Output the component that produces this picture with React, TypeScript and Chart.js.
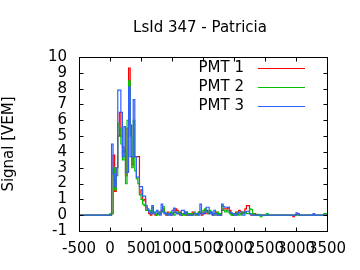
import { useEffect, useRef } from 'react';
import { Chart, registerables } from 'chart.js';

Chart.register(...registerables);

const TITLE = 'LsId 347 - Patricia';
const Y_LABEL = 'Signal [VEM]';
const SERIES_NAMES = ['PMT 1', 'PMT 2', 'PMT 3'];
const SERIES_COLORS = ['#ff0000', '#00c000', '#2f5fff'];

const X_MIN = -500;
const X_MAX = 3500;
const X_STEP = 500;
const Y_MIN = -1;
const Y_MAX = 10;
const Y_STEP = 1;

const BIN_START_NS = 0;
const BIN_WIDTH_NS = 25;

const PMT1 = [
  0.0, 0.1, 3.8, 1.5, 3.0, 5.0, 6.5, 5.0, 4.3, 4.0,
  2.5, 5.5, 9.3, 5.7, 3.2, 3.7, 3.7, 3.7, 3.7, 1.3,
  1.6, 0.9, 1.0, 0.5, 0.3, 0.1, 0.0, 0.2, 0.1, 0.0,
  0.1, 0.2, 0.1, 0.3, 0.4, 0.1, 0.0, 0.2, 0.1, 0.0,
  0.1, 0.2, 0.4, 0.3, 0.1, 0.2, 0.0, 0.1, 0.2, 0.0,
  0.0, 0.1, 0.0, 0.2, 0.1, 0.0, 0.1, 0.2, 0.1, 0.0,
  0.2, 0.1, 0.3, 0.1, 0.2, 0.1, 0.0, 0.1, 0.2, 0.0,
  0.1, 0.0, 0.3, 0.4, 0.4, 0.4, 0.5, 0.3, 0.1, 0.0,
  0.1, 0.2, 0.1, 0.3, 0.2, 0.1, 0.2, 0.4, 0.6, 0.6,
  0.1, 0.0, 0.0, 0.1, 0.0, 0.0, 0.0, 0.0, 0.0, 0.0,
  0.0, 0.0, 0.0, 0.0, 0.0, 0.0, 0.0, 0.0, 0.0, 0.0,
  0.0, 0.0, 0.0, 0.0, 0.0, 0.0, 0.0, 0.0, -0.1, 0.0,
  0.05, 0.1, 0.0, 0.0, 0.0, 0.0, 0.0, 0.0, 0.0, 0.0,
  0.0, 0.0, 0.0, 0.0, 0.0, 0.0, 0.0, 0.0, 0.0, 0.0,
];

const PMT2 = [
  0.1, 0.1, 3.0, 1.6, 2.5, 5.8, 5.5, 4.5, 3.5, 4.1,
  2.0, 6.0, 8.5, 5.0, 3.0, 6.0, 2.8, 2.3, 2.0, 1.3,
  1.0, 0.7, 0.6, 0.3, 0.3, 0.3, 0.1, 0.5, 0.2, 0.1,
  0.0, 0.2, 0.1, 0.2, 0.55, 0.2, 0.1, 0.0, 0.1, 0.2,
  0.1, 0.0, 0.2, 0.1, 0.2, 0.1, 0.0, 0.1, 0.0, 0.2,
  0.1, 0.0, 0.1, 0.0, 0.2, 0.1, 0.0, 0.2, 0.2, 0.1,
  0.3, 0.4, 0.2, 0.1, 0.3, 0.2, 0.1, 0.0, 0.1, 0.2,
  0.0, 0.1, 0.6, 0.3, 0.2, 0.3, 0.2, 0.1, 0.0, 0.1,
  0.1, 0.0, 0.2, 0.0, 0.1, 0.2, 0.1, 0.2, 0.1, 0.1,
  0.4, 0.35, 0.1, 0.0, 0.0, 0.05, 0.0, -0.1, 0.0, 0.0,
  0.0, 0.1, 0.0, 0.0, 0.0, 0.0, 0.0, 0.0, 0.0, 0.0,
  0.0, 0.0, 0.0, 0.0, 0.0, 0.0, 0.0, 0.0, 0.0, 0.0,
  0.0, 0.0, 0.0, 0.0, 0.0, 0.0, 0.0, 0.0, 0.0, 0.0,
  0.0, 0.0, 0.0, 0.0, 0.0, 0.0, 0.0, 0.0, 0.1, 0.1,
];

const PMT3 = [
  0.0, 4.5, 2.6, 1.8, 3.0, 7.9, 7.9, 6.5, 3.7, 5.6,
  2.7, 2.7, 8.1, 3.7, 3.7, 7.3, 3.7, 2.4, 2.4, 1.8,
  1.8, 1.2, 1.2, 0.6, 0.4, 0.2, 0.1, 0.6, 0.1, 0.2,
  0.3, 0.1, 0.0, 0.7, 0.2, 0.1, 0.1, 0.0, 0.1, 0.0,
  0.3, 0.45, 0.2, 0.1, 0.1, 0.0, 0.3, 0.3, 0.1, 0.2,
  0.0, 0.0, 0.0, 0.0, 0.1, 0.1, 0.1, 0.0, 0.7, 0.1,
  0.1, 0.2, 0.5, 0.5, 0.1, 0.2, 0.0, 0.3, 0.1, 0.0,
  0.0, 0.0, 0.7, 0.55, 0.5, 0.5, 0.5, 0.2, 0.15, 0.1,
  0.0, 0.0, 0.1, 0.2, 0.2, 0.0, 0.0, 0.2, 0.25, 0.25,
  0.1, 0.0, 0.0, 0.0, 0.0, 0.0, 0.0, 0.0, 0.0, 0.0,
  0.0, 0.0, 0.0, 0.0, 0.0, 0.0, 0.0, 0.0, 0.0, 0.0,
  0.0, 0.0, 0.0, 0.0, 0.0, 0.0, 0.0, 0.0, 0.0, 0.0,
  0.15, 0.1, 0.0, 0.0, 0.0, 0.0, 0.0, 0.0, 0.0, 0.0,
  0.0, 0.1, 0.0, 0.0, 0.0, 0.0, 0.0, 0.0, 0.0, 0.0,
];

const SERIES = [PMT1, PMT2, PMT3];
const FONT_FAMILY = '"DejaVu Sans", sans-serif';

function toPoints(vals: number[]) {
  const pts: { x: number; y: number }[] = [{ x: X_MIN, y: 0 }];
  vals.forEach((v, i) => pts.push({ x: BIN_START_NS + i * BIN_WIDTH_NS, y: v }));
  pts.push({ x: BIN_START_NS + vals.length * BIN_WIDTH_NS, y: vals[vals.length - 1] });
  return pts;
}

const framePlugin = {
  id: 'gnuFrame',
  afterDraw(chart: any) {
    const { ctx, chartArea: a, scales } = chart;
    const L = Math.round(a.left) + 0.5;
    const R = Math.round(a.right) + 0.5;
    const T = Math.round(a.top) + 0.5;
    const B = Math.round(a.bottom) + 0.5;
    const tick = 4;
    ctx.save();
    ctx.strokeStyle = '#000';
    ctx.lineWidth = 1;
    ctx.beginPath();
    scales.x.ticks.forEach((t: any) => {
      const px = Math.round(scales.x.getPixelForValue(t.value)) + 0.5;
      ctx.moveTo(px, B);
      ctx.lineTo(px, B - tick);
      ctx.moveTo(px, T);
      ctx.lineTo(px, T + tick);
    });
    scales.y.ticks.forEach((t: any) => {
      const py = Math.round(scales.y.getPixelForValue(t.value)) + 0.5;
      ctx.moveTo(L, py);
      ctx.lineTo(L + tick, py);
      ctx.moveTo(R, py);
      ctx.lineTo(R - tick, py);
    });
    ctx.stroke();
    ctx.strokeRect(L, T, R - L, B - T);

    ctx.fillStyle = '#000';
    ctx.font = `15px ${FONT_FAMILY}`;
    ctx.textAlign = 'center';
    ctx.textBaseline = 'middle';
    ctx.fillText(TITLE, (a.left + a.right) / 2 - 3, 28);

    ctx.textAlign = 'right';
    SERIES_NAMES.forEach((name, i) => {
      const y = 68 + i * 19;
      ctx.fillStyle = '#000';
      ctx.fillText(name, 244, y);
      ctx.strokeStyle = SERIES_COLORS[i];
      ctx.lineWidth = 1.2;
      ctx.beginPath();
      ctx.moveTo(258, y + 0.5);
      ctx.lineTo(305, y + 0.5);
      ctx.stroke();
    });
    ctx.restore();
  },
};

export default function App() {
  const ref = useRef<HTMLCanvasElement>(null);
  useEffect(() => {
    document.body.style.margin = '0';
    const canvas = ref.current;
    if (!canvas) return;
    const chart = new Chart(canvas, {
      type: 'line',
      data: {
        datasets: SERIES.map((vals, i) => ({
          label: SERIES_NAMES[i],
          data: toPoints(vals),
          borderColor: SERIES_COLORS[i],
          backgroundColor: SERIES_COLORS[i],
          borderWidth: 1.2,
          pointRadius: 0,
          stepped: 'before' as const,
          fill: false,
          order: 3 - i,
        })),
      },
      options: {
        animation: false,
        responsive: false,
        devicePixelRatio: 1,
        layout: { padding: { top: 57, right: 33, left: 0, bottom: 0 } },
        plugins: {
          legend: { display: false },
          tooltip: { enabled: false },
          title: { display: false },
        },
        scales: {
          x: {
            type: 'linear',
            min: X_MIN,
            max: X_MAX,
            grid: { display: false, drawTicks: false },
            border: { display: false },
            ticks: {
              stepSize: X_STEP,
              autoSkip: false,
              maxRotation: 0,
              minRotation: 0,
              padding: 9,
              color: '#000',
              font: { family: FONT_FAMILY, size: 15 },
              callback: (v: any) => String(v),
            },
            afterFit: (s: any) => {
              s.height = 39;
            },
          },
          y: {
            type: 'linear',
            min: Y_MIN,
            max: Y_MAX,
            grid: { display: false, drawTicks: false },
            border: { display: false },
            ticks: {
              stepSize: Y_STEP,
              autoSkip: false,
              padding: 12,
              color: '#000',
              font: { family: FONT_FAMILY, size: 15 },
              callback: (v: any) => String(v),
            },
            title: {
              display: true,
              text: Y_LABEL,
              color: '#000',
              padding: { top: 0, bottom: 0 },
              font: { family: FONT_FAMILY, size: 15 },
            },
            afterFit: (s: any) => {
              s.width = 79;
            },
          },
        },
      },
      plugins: [framePlugin],
    });
    return () => chart.destroy();
  }, []);
  return (
    <div style={{ width: 360, height: 270 }}>
      <canvas ref={ref} width={360} height={270} />
    </div>
  );
}
